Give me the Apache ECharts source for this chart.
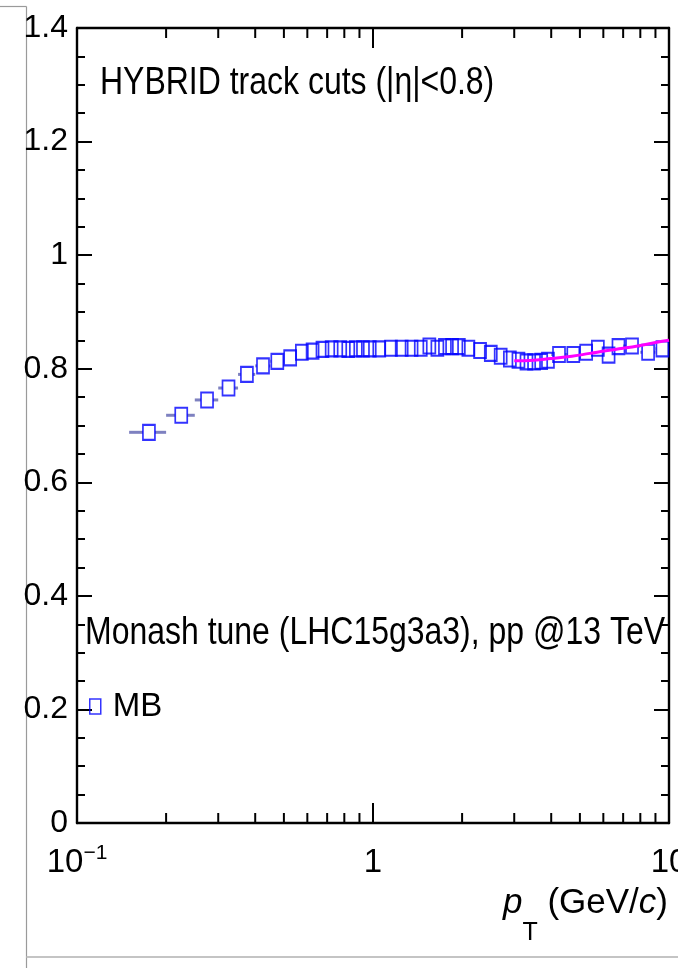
<!DOCTYPE html>
<html>
<head>
<meta charset="utf-8">
<script src="https://cdn.jsdelivr.net/npm/echarts@6/dist/echarts.min.js"></script>
<style>
html,body{margin:0;padding:0;background:#fff;overflow:hidden;}
#chart{width:678px;height:968px;}
</style>
</head>
<body>
<div id="chart"></div>
<script>
// ---- data ----
const ptEdges = [0.15,0.2,0.25,0.3,0.35,0.4,0.45,0.5,0.55,0.6,0.65,0.7,0.75,0.8,0.85,0.9,0.95,1.0,
  1.1,1.2,1.3,1.4,1.5,1.6,1.7,1.8,1.9,2.0,2.2,2.4,2.6,2.8,3.0,3.2,3.4,3.6,3.8,4.0,
  4.5,5.0,5.5,6.0,6.5,7.0,8.0,9.0,10.0];
const mbValues = [0.688,0.718,0.745,0.766,0.790,0.805,0.813,0.819,0.829,0.831,0.834,0.835,0.835,0.834,0.835,0.835,0.835,
  0.835,0.836,0.836,0.836,0.836,0.840,0.836,0.839,0.839,0.839,
  0.836,0.832,0.827,0.822,0.817,0.815,0.812,0.812,0.813,0.815,
  0.825,0.825,0.829,0.836,0.824,0.839,
  0.840,0.829,0.835];
const fitX = [3.0,3.5,4.0,4.7,5.4,6.2,7.0,8.0,9.0,10.0];
const fitY = [0.814,0.815,0.818,0.822,0.827,0.832,0.836,0.841,0.846,0.850];
const xMinorTicks = [0.2,0.3,0.4,0.5,0.6,0.7,0.8,0.9,2,3,4,5,6,7,8,9];
const xLabels = {0.1:'{b|10}{e|\u22121}', 1:'{b|1}', 10:'{b|10}'};
const yMin = 0, yMax = 1.4, yStep = 0.2;
const xMin = 0.1, xMax = 10;
const titleText = 'HYBRID track cuts (|\u03b7|<0.8)';
const tuneText = 'Monash tune (LHC15g3a3), pp @13 TeV';
const seriesName = 'MB';

// ---- build ----
const FONT = "'Liberation Sans',Arial,Helvetica,sans-serif";
const NARROW = 0.82;
const points = [], bars = [];
for (let i = 0; i < mbValues.length; i++) {
  const lo = ptEdges[i], hi = ptEdges[i+1], c = (lo+hi)/2;
  points.push([c, mbValues[i]]);
  bars.push([c, mbValues[i], lo, hi]);
}
const fitData = fitX.map((x,i)=>[x, fitY[i]]);

const chart = echarts.init(document.getElementById('chart'), null, {renderer:'canvas'});
const axisLineStyle = {color:'#000', width:2.4};
const xAxisBase = {
  type:'log', logBase:10, min:xMin, max:xMax,
  axisLine:{show:true, onZero:false, lineStyle:axisLineStyle},
  axisTick:{show:true, inside:true, length:20, lineStyle:{color:'#000', width:2}},
  splitLine:{show:false}, minorTick:{show:false}, minorSplitLine:{show:false}
};
const yAxisBase = {
  type:'value', min:yMin, max:yMax, interval:yStep,
  axisLine:{show:true, onZero:false, lineStyle:axisLineStyle},
  axisTick:{show:true, inside:true, length:15, lineStyle:{color:'#000', width:2}},
  minorTick:{show:true, splitNumber:4, length:8, lineStyle:{color:'#000', width:2}},
  splitLine:{show:false}
};
const option = {
  backgroundColor:'#fff',
  animation:false,
  textStyle:{fontFamily:FONT},
  grid:{left:77, right:9, top:28, bottom:145, containLabel:false, outerBoundsMode:'none'},
  legend:{
    left:89, top:690, orient:'vertical', padding:0,
    itemWidth:11, itemHeight:15,
    data:[{name:seriesName, icon:'rect'}],
    itemStyle:{color:'rgba(0,0,0,0)', borderColor:'#0000ff', borderWidth:1.5},
    textStyle:{fontSize:33, color:'#000', fontFamily:FONT, padding:[0,0,0,7]},
    selectedMode:false
  },
  xAxis:[
    Object.assign({}, xAxisBase, {
      position:'bottom',
      axisLabel:{show:true, margin:16, color:'#000', fontFamily:FONT,
        formatter:(v)=>xLabels[+v.toPrecision(3)] || '',
        rich:{
          b:{fontSize:33, lineHeight:48, fontFamily:FONT, color:'#000'},
          e:{fontSize:21, verticalAlign:'top', padding:[4,0,0,0], fontFamily:FONT, color:'#000'}
        }},
      name:'{i|p}{s|T}{r| (GeV/}{i|c}{r|)}',
      nameLocation:'end', nameGap:-1,
      nameTextStyle:{align:'right', verticalAlign:'top', padding:[38,0,0,0],
        rich:{
          i:{fontSize:35, fontStyle:'italic', fontFamily:FONT, color:'#000'},
          r:{fontSize:35, fontFamily:FONT, color:'#000'},
          s:{fontSize:25, padding:[60,0,0,0], fontFamily:FONT, color:'#000'}
        }}
    }),
    Object.assign({}, xAxisBase, {position:'top', axisLabel:{show:false}})
  ],
  yAxis:[
    Object.assign({}, yAxisBase, {position:'left',
      axisLabel:{show:true, margin:9, fontSize:32, color:'#000', fontFamily:FONT}}),
    Object.assign({}, yAxisBase, {position:'right', axisLabel:{show:false}})
  ],
  graphic:[
    {type:'line', shape:{x1:0, y1:6.5, x2:26.5, y2:6.5}, style:{stroke:'#9a9a9a', lineWidth:1.2}, silent:true, z:-1},
    {type:'line', shape:{x1:26.5, y1:6.5, x2:26.5, y2:968}, style:{stroke:'#9a9a9a', lineWidth:1.2}, silent:true, z:-1},
    {type:'line', shape:{x1:26.5, y1:957, x2:678, y2:957}, style:{stroke:'#c4c4c4', lineWidth:2}, silent:true, z:-1},
    {type:'text', x:100, y:64, scaleX:NARROW, style:{text:titleText, fontSize:39, fontFamily:FONT, fill:'#000'}, silent:true},
    {type:'text', x:85, y:614, scaleX:NARROW, style:{text:tuneText, fontSize:39, fontFamily:FONT, fill:'#000'}, silent:true}
  ],
  series:[
    {
      type:'custom', name:'xminor', silent:true, clip:false, z:3,
      xAxisIndex:0, yAxisIndex:0,
      data:xMinorTicks.map(v=>[v, yMin]),
      renderItem:(params, api)=>{
        const x = api.value(0);
        const pb = api.coord([x, yMin]), pt = api.coord([x, yMax]);
        const st = {stroke:'#000', lineWidth:2};
        return {type:'group', children:[
          {type:'line', shape:{x1:pb[0], y1:pb[1], x2:pb[0], y2:pb[1]-10}, style:st},
          {type:'line', shape:{x1:pt[0], y1:pt[1], x2:pt[0], y2:pt[1]+10}, style:st}
        ]};
      }
    },
    {
      type:'custom', name:'xerr', silent:true, z:4,
      xAxisIndex:0, yAxisIndex:0,
      data:bars,
      renderItem:(params, api)=>{
        const c = api.coord([api.value(0), api.value(1)]);
        const l = api.coord([api.value(2), api.value(1)]);
        const h = api.coord([api.value(3), api.value(1)]);
        const half = 6;
        const st = {stroke:'rgba(40,45,150,0.6)', lineWidth:3};
        const ch = [];
        if (c[0]-half - l[0] > 0.5) ch.push({type:'line', shape:{x1:l[0], y1:c[1], x2:c[0]-half, y2:c[1]}, style:st});
        if (h[0] - (c[0]+half) > 0.5) ch.push({type:'line', shape:{x1:c[0]+half, y1:c[1], x2:h[0], y2:c[1]}, style:st});
        return {type:'group', children:ch};
      }
    },
    {
      type:'scatter', name:seriesName, data:points,
      xAxisIndex:0, yAxisIndex:0, z:5,
      symbol:'rect', symbolSize:[12,15],
      itemStyle:{color:'rgba(0,0,0,0)', borderColor:'#0000ff', borderWidth:1.9}
    },
    {
      type:'line', name:'fit', data:fitData, smooth:true, showSymbol:false, symbol:'none',
      xAxisIndex:0, yAxisIndex:0, z:6,
      lineStyle:{color:'#ff00ff', width:3}
    }
  ]
};
chart.setOption(option);
</script>
</body>
</html>
